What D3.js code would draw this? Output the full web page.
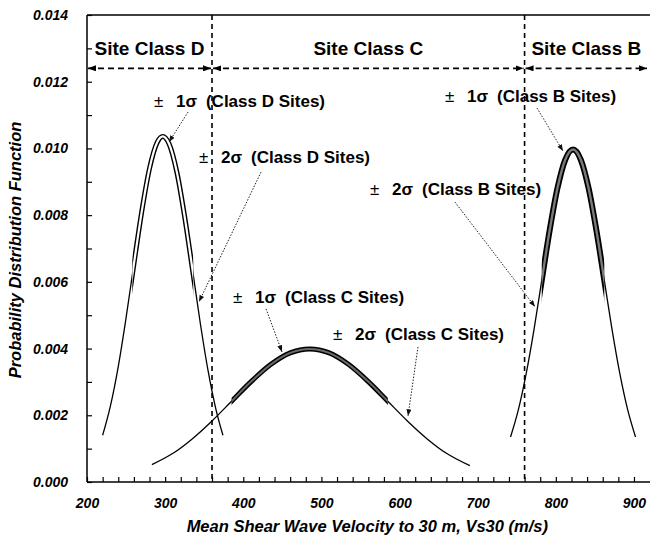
<!DOCTYPE html>
<html><head><meta charset="utf-8">
<script src="https://cdn.jsdelivr.net/npm/d3@7"></script>
<style>body{margin:0;background:#fff} svg{display:block}</style>
</head><body><svg id="c" width="650" height="541"></svg>
<script>
// ---- data ----
const xD = [220,230,240,250,260,270,280,290,297,305,315,325,335,345,355,365,374];
const yD = [0.0014,0.00228,0.00346,0.00492,0.00653,0.0081,0.0094,0.01019,0.01036,0.01014,0.00929,0.00795,0.00637,0.00476,0.00333,0.00218,0.0014];
const xC = [283,310,335,360,385,410,435,460,485,510,535,560,585,610,635,660,690];
const yC = [0.00052,0.00086,0.0013,0.00183,0.00242,0.00301,0.00352,0.00387,0.00399,0.00387,0.00352,0.00301,0.00242,0.00183,0.0013,0.00086,0.00049];
const xB = [742,752,762,772,782,792,802,812,822,832,842,852,862,872,882,892,902];
const yB = [0.00135,0.00216,0.00324,0.00456,0.00605,0.00753,0.0088,0.00966,0.00997,0.00966,0.0088,0.00753,0.00605,0.00456,0.00324,0.00216,0.00135];
const oneSigmaD = [258, 336];
const oneSigmaC = [385, 585];
const oneSigmaB = [782, 862];
const classNames = ["Site Class D", "Site Class C", "Site Class B"];
const classEdges = [200, 360, 760, 918];
const classArrowY = 0.0124;
const xTickValues = d3.range(200, 901, 20);
const xTickLabels = ["200","300","400","500","600","700","800","900"];
const yTickValues = d3.range(0, 15).map(i => i / 1000);
const yTickLabels = ["0.000","0.002","0.004","0.006","0.008","0.010","0.012","0.014"];
// annotations (data units): label anchor, arrow start, arrow tip
const annSigma = ["1σ","2σ","1σ","2σ","1σ","2σ"];
const annText = ["(Class D Sites)","(Class D Sites)","(Class B Sites)","(Class B Sites)","(Class C Sites)","(Class C Sites)"];
const annPos = [[285.7,0.01124],[343.3,0.00956],[658.2,0.01139],[562.2,0.0086],[386.9,0.00537],[514.8,0.00426]];
const annFrom = [[329.3,0.01109],[422.7,0.00929],[775.9,0.01121],[671.0,0.00839],[429.1,0.00519],[623.6,0.00405]];
const annTo = [[304.9,0.01019],[343.3,0.0054],[809.2,0.00992],[773.4,0.00525],[449.6,0.0039],[610.8,0.00198]];

// ---- layout ----
const svg = d3.select("#c");
const L = 87, R = 649.6, T = 15, B = 482;
const x = d3.scaleLinear().domain([200, 920]).range([L, R]);
const y = d3.scaleLinear().domain([0, 0.014]).range([B, T]);
const FONT = "'Liberation Sans', Arial, Helvetica, sans-serif";

const defs = svg.append("defs");
defs.append("marker").attr("id","ah").attr("viewBox","0 0 8 6").attr("refX",8).attr("refY",3)
  .attr("markerWidth",8).attr("markerHeight",6).attr("markerUnits","userSpaceOnUse")
  .attr("orient","auto-start-reverse")
  .append("path").attr("d","M0,0L8,3L0,6Z").attr("fill","#000");
defs.append("marker").attr("id","sa").attr("viewBox","0 0 8 6").attr("refX",8).attr("refY",3)
  .attr("markerWidth",7).attr("markerHeight",5).attr("markerUnits","userSpaceOnUse")
  .attr("orient","auto")
  .append("path").attr("d","M0,0L8,3L0,6Z").attr("fill","#111");

// frame
svg.append("line").attr("x1",L).attr("x2",650).attr("y1",T).attr("y2",T).attr("stroke","#000").attr("stroke-width",1.3);

// axes
const xAxis = d3.axisBottom(x).tickValues(xTickValues).tickSize(-5).tickPadding(16)
  .tickFormat(d => d % 100 === 0 ? xTickLabels[(d - 200) / 100] : "");
const gx = svg.append("g").attr("transform",`translate(0,${B})`).call(xAxis);
gx.select(".domain").attr("d",`M${L},0H650`).attr("stroke-width",1.5);
gx.selectAll(".tick line").attr("stroke-width",1.2);
gx.selectAll("text").attr("font-family",FONT).attr("font-size",14).attr("font-weight","bold").attr("font-style","italic");

const yAxis = d3.axisLeft(y).tickValues(yTickValues).tickSize(-5).tickPadding(19)
  .tickFormat((d,i) => i % 2 === 0 ? yTickLabels[i / 2] : "");
const gy = svg.append("g").attr("transform",`translate(${L},0)`).call(yAxis);
gy.select(".domain").attr("d",`M0,${T}V${B}`).attr("stroke-width",1.5);
gy.selectAll(".tick line").attr("stroke-width",1.2);
gy.selectAll("text").attr("font-family",FONT).attr("font-size",14).attr("font-weight","bold").attr("font-style","italic");

// axis titles
svg.append("text").attr("x",(L+R)/2 - 1).attr("y",532).attr("text-anchor","middle")
  .attr("font-family",FONT).attr("font-size",16.5).attr("font-weight","bold").attr("font-style","italic")
  .text("Mean Shear Wave Velocity to 30 m, Vs30 (m/s)");
svg.append("text").attr("transform","translate(21,250) rotate(-90)").attr("text-anchor","middle")
  .attr("font-family",FONT).attr("font-size",16.5).attr("font-weight","bold").attr("font-style","italic")
  .text("Probability Distribution Function");

// class boundaries
[classEdges[1], classEdges[2]].forEach(v => {
  svg.append("line").attr("x1",x(v)).attr("x2",x(v)).attr("y1",T).attr("y2",B)
    .attr("stroke","#000").attr("stroke-width",1.6).attr("stroke-dasharray","5,4");
});
classNames.forEach((n,i) => {
  const a = classEdges[i], b = classEdges[i+1];
  svg.append("line").attr("x1",x(a)+1).attr("x2",x(b)-1).attr("y1",y(classArrowY)).attr("y2",y(classArrowY))
    .attr("stroke","#000").attr("stroke-width",1.6).attr("stroke-dasharray","6,4")
    .attr("marker-start","url(#ah)").attr("marker-end","url(#ah)");
  svg.append("text").attr("x",(x(a)+x(Math.min(b,920)))/2).attr("y",y(classArrowY)-13).attr("text-anchor","middle")
    .attr("font-family",FONT).attr("font-size",19).attr("font-weight","bold").text(n);
});

// curves
const line = d3.line().x(d => x(d[0])).y(d => y(d[1])).curve(d3.curveMonotoneX);
const curves = [
  {xs:xD, ys:yD, band:oneSigmaD, outer:5, inner:2.2, innerColor:"#fff", id:"cD"},
  {xs:xC, ys:yC, band:oneSigmaC, outer:5, inner:2, innerColor:"#6a6a6a", id:"cC"},
  {xs:xB, ys:yB, band:oneSigmaB, outer:6, inner:2.4, innerColor:"#7a7a7a", id:"cB"}
];
curves.forEach(c => {
  const pts = c.xs.map((v,i) => [v, c.ys[i]]);
  defs.append("clipPath").attr("id",c.id).append("rect")
    .attr("x",x(c.band[0])).attr("width",x(c.band[1])-x(c.band[0])).attr("y",0).attr("height",541);
  svg.append("path").attr("d",line(pts)).attr("fill","none").attr("stroke","#000").attr("stroke-width",1.3);
  svg.append("path").attr("d",line(pts)).attr("fill","none").attr("stroke","#000")
    .attr("stroke-width",c.outer).attr("clip-path",`url(#${c.id})`);
  svg.append("path").attr("d",line(pts)).attr("fill","none").attr("stroke",c.innerColor)
    .attr("stroke-width",c.inner).attr("clip-path",`url(#${c.id})`);
});

// annotations
annPos.forEach((p,i) => {
  const t = svg.append("text").attr("x",x(p[0])).attr("y",y(p[1]))
    .attr("font-family",FONT).attr("font-size",17).attr("fill","#000");
  t.append("tspan").attr("font-weight","normal").text("±");
  t.append("tspan").attr("x",x(p[0])+22).attr("font-weight","bold").text(annSigma[i]);
  t.append("tspan").attr("x",x(p[0])+52).attr("font-weight","bold").text(annText[i]);
  svg.append("line").attr("x1",x(annFrom[i][0])).attr("y1",y(annFrom[i][1]))
    .attr("x2",x(annTo[i][0])).attr("y2",y(annTo[i][1]))
    .attr("stroke","#222").attr("stroke-width",1).attr("stroke-dasharray","1.5,1.5")
    .attr("marker-end","url(#sa)");
});
</script></body></html>
